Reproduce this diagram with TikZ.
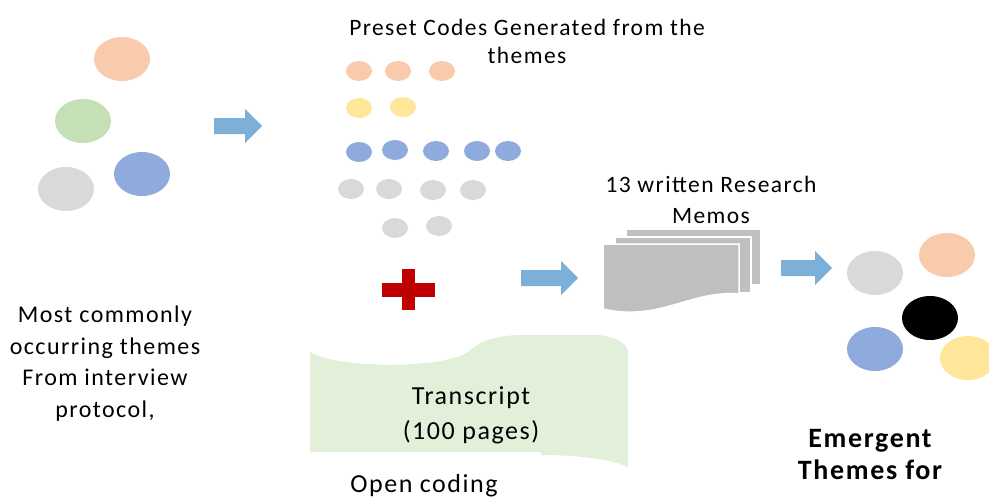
\documentclass[tikz,border=0pt]{standalone}
\usepackage{fontspec}
\setmainfont{Carlito}[LetterSpace=6]
\usetikzlibrary{shapes.geometric}
\definecolor{peach}{HTML}{F8CBAD}
\definecolor{mint}{HTML}{C5E0B4}
\definecolor{cornflower}{HTML}{8FAADC}
\definecolor{silver}{HTML}{D9D9D9}
\definecolor{butter}{HTML}{FFE699}
\definecolor{arrowblue}{HTML}{7CB0D8}
\definecolor{crossred}{HTML}{C00000}
\definecolor{sheetgreen}{HTML}{E2F0D9}
\definecolor{memogray}{HTML}{BFBFBF}
\tikzstyle{theme} = [ellipse, minimum width=56pt, minimum height=44pt, inner sep=0pt]
\tikzstyle{code} = [ellipse, minimum width=26pt, minimum height=20pt, inner sep=0pt]
\tikzstyle{memo} = [fill=memogray, draw=white, line width=1.5pt]
\tikzstyle{txt} = [align=center, inner sep=0pt, anchor=base, font=\fontsize{24}{31.5}\selectfont]
% block arrow: x start, x end, y centre
\newcommand{\blkarrow}[3]{\fill[arrowblue] (#1,#3-8) -- (#2-17,#3-8) -- (#2-17,#3-17) -- (#2,#3)
  -- (#2-17,#3+17) -- (#2-17,#3+8) -- (#1,#3+8) -- cycle;}

\begin{document}
\begin{tikzpicture}[x=1pt, y=-1pt]
\useasboundingbox (0,0) rectangle (989,498);

% themes from the interview protocol
\node [theme, fill=peach] (p1) at (122,59) {};
\node [theme, fill=mint] (p2) at (83,121) {};
\node [theme, fill=cornflower] (p3) at (142,174) {};
\node [theme, fill=silver] (p4) at (66,189) {};
\node [txt] (protocol) at (105,417) {Most commonly\\occurring themes\\From interview\\protocol,};

\blkarrow{214}{262}{126}

% preset codes
\node [txt, font=\fontsize{23.5}{28}\selectfont] (preset) at (527,63) {Preset Codes Generated from the\\themes};
\foreach \x/\y [count=\i] in {359/71, 398/71, 442/71}
  \node [code, fill=peach] (co\i) at (\x,\y) {};
\foreach \x/\y [count=\i] in {359/108, 403/107}
  \node [code, fill=butter] (cy\i) at (\x,\y) {};
\foreach \x/\y [count=\i] in {359/152, 395/150, 436/151, 477/151, 508/151}
  \node [code, fill=cornflower] (cb\i) at (\x,\y) {};
\foreach \x/\y [count=\i] in {351/189, 389/189, 433/190, 473/190, 395/228, 439/226}
  \node [code, fill=silver] (cg\i) at (\x,\y) {};

% plus sign
\fill[crossred] (382,283) rectangle (435,297);
\fill[crossred] (402,269) rectangle (415,310);

% transcript sheet
\fill[sheetgreen] (310,352) .. controls (335,368) and (440,370) .. (468,352)
  .. controls (480,340) and (500,335) .. (522,335) -- (598,335)
  .. controls (614,336) and (625,342) .. (628,350) -- (628,467)
  .. controls (612,459) and (575,455) .. (541,455) -- (541,452) -- (310,452) -- cycle;
\node [txt, font=\fontsize{26}{35}\selectfont] (transcript) at (471,439) {Transcript\\(100 pages)};
\node [txt, font=\fontsize{26}{31}\selectfont] (open) at (424,492) {Open coding};

\blkarrow{521}{578}{278}

% research memos
\node [txt, font=\fontsize{23.5}{31}\selectfont] (memotitle) at (711,223) {13 written Research\\Memos};
\filldraw[memo] (626,229) rectangle (761,285);
\filldraw[memo] (615,237) rectangle (751,293);
\filldraw[memo] (603,244) -- (739,244) -- (739,294) .. controls (690,290) and (660,322) .. (603,309) -- cycle;

\blkarrow{781}{832}{268}

% emergent themes
\node [theme, fill=silver] (e1) at (875,273) {};
\node [theme, fill=peach] (e2) at (947,255) {};
\node [theme, fill=black] (e3) at (930,318) {};
\node [theme, fill=cornflower] (e4) at (875,349) {};
\node [theme, fill=butter] (e5) at (968,358) {};
\node [txt, font=\bfseries\fontsize{28}{32}\selectfont] (emergent) at (870,479) {Emergent\\Themes for};
\end{tikzpicture}
\end{document}
